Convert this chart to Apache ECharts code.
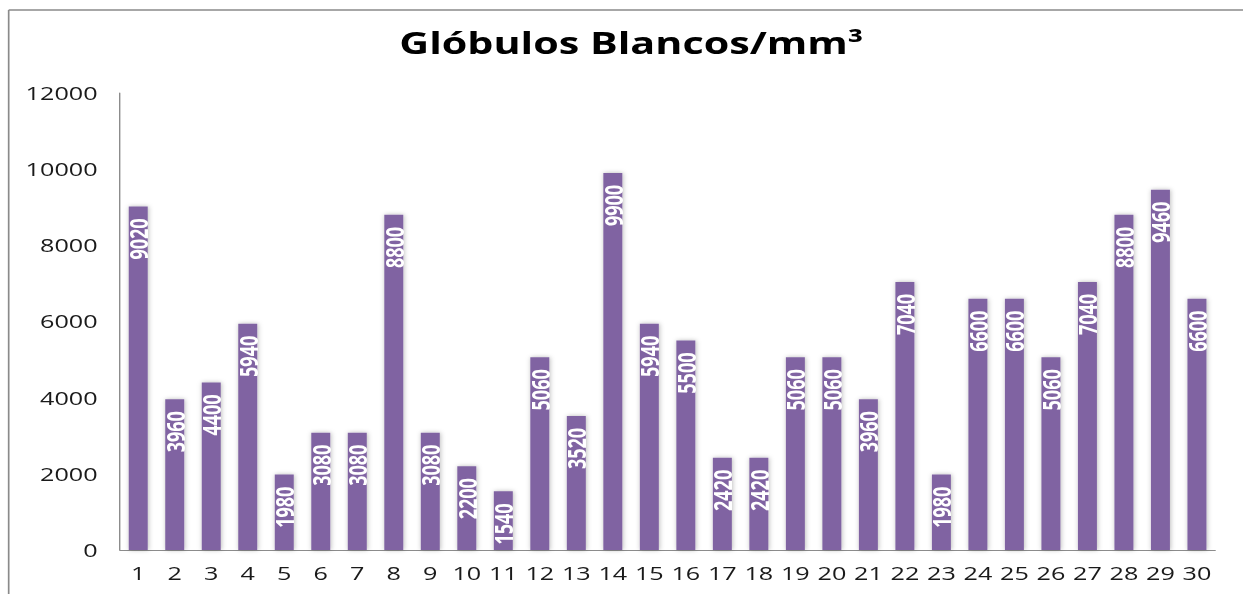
<!DOCTYPE html>
<html>
<head>
<meta charset="utf-8">
<script src="https://cdn.jsdelivr.net/npm/echarts@6/dist/echarts.min.js"></script>
<style>
  html, body { margin: 0; padding: 0; background: #ffffff; overflow: hidden; }
  #wrap { width: 1243px; height: 594px; overflow: hidden; position: relative; }
  /* The chart is laid out on a narrower canvas and widened, giving the broad lettering of the sheet */
  #chart { width: 888px; height: 594px; transform: scaleX(1.4); transform-origin: 0 0; }
</style>
</head>
<body>
<div id="wrap"><div id="chart"></div></div>
<script>
const titleText = 'Glóbulos Blancos/mm³';
const categories = ['1','2','3','4','5','6','7','8','9','10','11','12','13','14','15',
                    '16','17','18','19','20','21','22','23','24','25','26','27','28','29','30'];
const values = [9020, 3960, 4400, 5940, 1980, 3080, 3080, 8800, 3080, 2200,
                1540, 5060, 3520, 9900, 5940, 5500, 2420, 2420, 5060, 5060,
                3960, 7040, 1980, 6600, 6600, 5060, 7040, 8800, 9460, 6600];
const yTicks = { min: 0, max: 12000, interval: 2000 };

const W = 888;
const chart = echarts.init(document.getElementById('chart'), null, { renderer: 'svg' });

chart.setOption({
  animation: false,
  backgroundColor: '#ffffff',
  textStyle: { fontFamily: 'Open Sans' },
  title: {
    text: titleText,
    left: 446,
    textAlign: 'center',
    top: 23,
    textStyle: { fontFamily: 'Open Sans', fontWeight: 'bold', fontSize: 29.5, color: '#000000' }
  },
  graphic: [
    { type: 'line', shape: { x1: 6.2, y1: 10, x2: W, y2: 10 }, style: { stroke: '#8a8a8a', lineWidth: 1.6 } },
    { type: 'line', shape: { x1: 6.2, y1: 10, x2: 6.2, y2: 594 }, style: { stroke: '#8a8a8a', lineWidth: 1.2 } }
  ],
  grid: { left: 85.7, right: 20, top: 93, bottom: 44, containLabel: false },
  xAxis: {
    type: 'category',
    data: categories,
    axisLine: { show: true, lineStyle: { color: '#8c8c8c', width: 1 } },
    axisTick: { show: false },
    axisLabel: { interval: 0, color: '#1a1a1a', fontSize: 18, margin: 14, fontFamily: 'Open Sans' },
    splitLine: { show: false }
  },
  yAxis: {
    type: 'value',
    min: yTicks.min,
    max: yTicks.max,
    interval: yTicks.interval,
    axisLine: { show: true, lineStyle: { color: '#8c8c8c', width: 1 } },
    axisTick: { show: false },
    axisLabel: {
      color: '#1a1a1a', fontSize: 18, margin: 16, fontFamily: 'Open Sans',
      formatter: (v) => String(v)
    },
    splitLine: { show: false }
  },
  series: [{
    type: 'bar',
    data: values,
    barWidth: '52%',
    itemStyle: {
      color: '#8064A2',
      shadowColor: 'rgba(0,0,0,0.28)',
      shadowBlur: 4,
      shadowOffsetX: 0.5,
      shadowOffsetY: 0
    },
    label: {
      show: true,
      position: 'insideTop',
      rotate: 90,
      align: 'right',
      verticalAlign: 'middle',
      distance: 12,
      color: '#ffffff',
      fontFamily: 'Open Sans',
      fontWeight: 'bold',
      fontSize: 18
    }
  }]
});
</script>
</body>
</html>
